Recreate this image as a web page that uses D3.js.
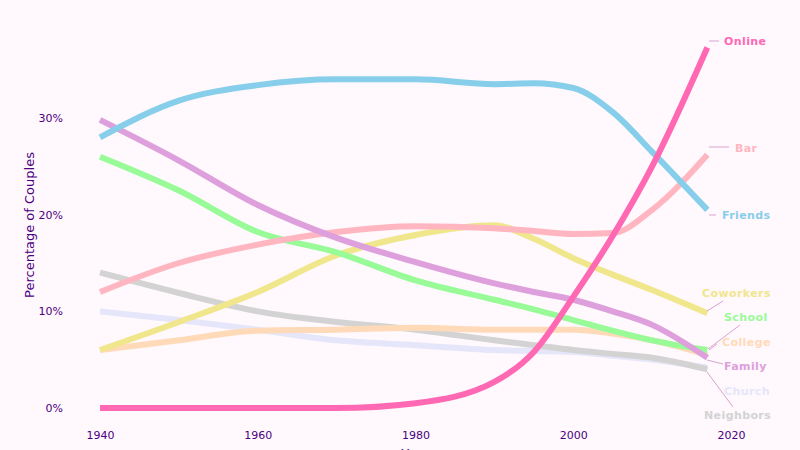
<!DOCTYPE html>
<meta charset="utf-8">
<style>
  body { margin: 0; background: #fff8fc; }
  svg { display: block; font-family: "DejaVu Sans", sans-serif; }
</style>
<svg width="800" height="450"></svg>
<script src="https://cdn.jsdelivr.net/npm/d3@7"></script>
<script>
// how couples met, share of couples (%)
var years = [1940, 1950, 1960, 1970, 1980, 1990, 1995, 2000, 2005, 2010, 2017]

var church    = [10, 9.1, 8.1, 7, 6.5, 6, 5.9, 5.8, 5.4, 5, 4.2]
var neighbors = [14, 11.9, 10, 8.9, 8.1, 7, 6.5, 6, 5.6, 5.2, 4]
var college   = [6, 7, 8, 8.1, 8.3, 8.1, 8.1, 8.1, 7.7, 7, 5.5]
var coworkers = [6, 8.9, 12, 15.8, 17.9, 18.9, 17.5, 15.5, 13.8, 12.2, 9.8]
var school    = [26, 22.5, 18.2, 16.1, 13.2, 11.2, 10.2, 9.1, 8, 7, 6]
var family    = [29.8, 25.6, 21, 17.6, 15.1, 12.9, 12, 11.2, 10, 8.6, 5.2]
var bar       = [12, 15, 16.9, 18.2, 18.8, 18.6, 18.3, 18, 18.1, 20.5, 26.2]
var friends   = [28, 31.8, 33.4, 34, 34, 33.5, 33.6, 33.1, 30.6, 26.5, 20.5]
var online    = [0, 0, 0, 0, 0.5, 2.7, 5.8, 11.5, 17.8, 25, 37.3]

var xTicks = [1940, 1960, 1980, 2000, 2020]
var yTicks = [0, 10, 20, 30]

var series = [
  { name: "Church",    values: church,    color: "#e6e6fa" },
  { name: "Neighbors", values: neighbors, color: "#d3d3d3" },
  { name: "College",   values: college,   color: "#ffdab9" },
  { name: "Coworkers", values: coworkers, color: "#f0e68c" },
  { name: "School",    values: school,    color: "#98fb98" },
  { name: "Bar",       values: bar,       color: "#ffb6c1" },
  { name: "Family",    values: family,    color: "#dda0dd" },
  { name: "Friends",   values: friends,   color: "#87ceeb" },
  { name: "Online",    values: online,    color: "#ff69b4" }
]

// label placement (pixels), annotation style
var labelPos = {
  Online:    { x: 724, y: 41,  lx1: 709, ly1: 41,  lx2: 719, ly2: 41 },
  Bar:       { x: 735, y: 148, lx1: 709, ly1: 147, lx2: 729, ly2: 147 },
  Friends:   { x: 722, y: 215, lx1: 709, ly1: 215, lx2: 716, ly2: 215 },
  Coworkers: { x: 702, y: 293, lx1: 707, ly1: 311, lx2: 723, ly2: 301 },
  School:    { x: 724, y: 317, lx1: 708, ly1: 349, lx2: 740, ly2: 325 },
  College:   { x: 722, y: 342, lx1: 709, ly1: 350, lx2: 717, ly2: 344 },
  Family:    { x: 724, y: 366, lx1: 707, ly1: 360, lx2: 723, ly2: 364 },
  Church:    { x: 724, y: 391 },
  Neighbors: { x: 704, y: 415, lx1: 707, ly1: 372, lx2: 733, ly2: 407 }
}

const svg = d3.select('svg')
const ink = '#4b0082'

const x = d3.scaleLinear().domain([1940, 2020]).range([100, 731])
const y = d3.scaleLinear().domain([0, 30]).range([408, 118])

svg.append('rect').attr('width', 800).attr('height', 450).attr('fill', '#fff8fc')

// axes
const xAxis = svg.append('g')
  .attr('transform', 'translate(0,428)')
  .call(d3.axisBottom(x).tickValues(xTicks).tickFormat(d3.format('d')).tickSize(0))
xAxis.select('.domain').remove()
xAxis.selectAll('text').attr('fill', ink).attr('font-size', 11).attr('font-family', 'DejaVu Sans')

const yAxis = svg.append('g')
  .attr('transform', 'translate(66,0)')
  .call(d3.axisLeft(y).tickValues(yTicks).tickFormat(d => d + '%').tickSize(0))
yAxis.select('.domain').remove()
yAxis.selectAll('text').attr('fill', ink).attr('font-size', 11).attr('font-family', 'DejaVu Sans')

svg.append('text')
  .attr('transform', 'translate(34,225) rotate(-90)')
  .attr('text-anchor', 'middle')
  .attr('fill', ink).attr('font-size', 13)
  .text('Percentage of Couples')

// axis title sits partly below the frame, as in the original
svg.append('text')
  .attr('x', 415).attr('y', 458)
  .attr('text-anchor', 'middle')
  .attr('fill', ink).attr('font-size', 13)
  .text('Year')

// lines
const line = d3.line()
  .x((d, i) => x(years[i]))
  .y(d => y(d))
  .curve(d3.curveMonotoneX)

svg.append('g')
  .selectAll('path')
  .data(series)
  .enter().append('path')
  .attr('d', s => line(s.values))
  .attr('fill', 'none')
  .attr('stroke', s => s.color)
  .attr('stroke-width', 6)

// labels
const labels = svg.append('g')
series.forEach(s => {
  const p = labelPos[s.name]
  if (p.lx1 !== undefined) {
    labels.append('line')
      .attr('x1', p.lx1).attr('y1', p.ly1)
      .attr('x2', p.lx2).attr('y2', p.ly2)
      .attr('stroke', '#d9a3cf').attr('stroke-width', 1)
  }
  labels.append('text')
    .attr('x', p.x).attr('y', p.y)
    .attr('dy', '0.35em')
    .attr('fill', s.color)
    .attr('font-size', 11)
    .attr('font-weight', 'bold')
    .attr('letter-spacing', 0.4)
    .text(s.name)
})
</script>
